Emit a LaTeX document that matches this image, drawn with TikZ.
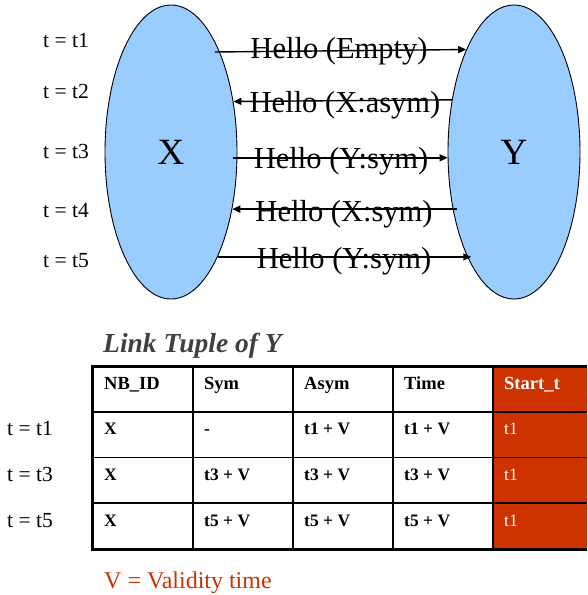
\documentclass[tikz,border=0pt]{standalone}
\usepackage{fontspec}
\setmainfont{Liberation Serif}
\usetikzlibrary{arrows.meta,shapes.geometric}
\definecolor{peerblue}{HTML}{99CCFF}
\definecolor{rust}{HTML}{CC3300}
\definecolor{titlegray}{HTML}{404040}

\begin{document}
\begin{tikzpicture}[x=1pt,y=-1pt,
  peer/.style={ellipse,draw=black,line width=0.9pt,fill=peerblue,
    minimum width=132pt,minimum height=294pt,inner sep=0pt,
    font=\fontsize{37}{40}\selectfont},
  msg/.style={anchor=base,inner sep=0pt,font=\fontsize{30.5}{34}\selectfont},
  msgarrow/.style={line width=1.4pt,-{Triangle[length=8pt,width=7pt]}},
  tlabel/.style={anchor=base west,inner sep=0pt,font=\fontsize{21.5}{25}\selectfont},
  cellhead/.style={anchor=base west,inner sep=0pt,font=\fontsize{18.5}{21}\selectfont\bfseries},
  cell/.style={anchor=base west,inner sep=0pt,font=\fontsize{17.5}{20}\selectfont\bfseries},
  startcell/.style={anchor=base west,inner sep=0pt,text=white,font=\fontsize{17.5}{20}\selectfont},
  grid/.style={line width=1.6pt},
  frame/.style={line width=3pt}]
\useasboundingbox (0,0) rectangle (587,595);

% the two peers
\node[peer] (X) at (171,152) {X};
\node[peer] (Y) at (514,152) {Y};

% time marks of the exchange
\node[tlabel] (tt1) at (43,47)  {t = t1};
\node[tlabel] (tt2) at (43,98)  {t = t2};
\node[tlabel] (tt3) at (43,158) {t = t3};
\node[tlabel] (tt4) at (43,217) {t = t4};
\node[tlabel] (tt5) at (43,267) {t = t5};

% hello messages
\node[msg] (m1) at (339,58)  {Hello (Empty)};
\node[msg] (m2) at (345,112) {Hello (X:asym)};
\node[msg] (m3) at (341,168) {Hello (Y:sym)};
\node[msg] (m4) at (344,221) {Hello (X:sym)};
\node[msg] (m5) at (344,268) {Hello (Y:sym)};

\draw[msgarrow,shorten <=-5pt] (X.64.06) -- (Y.115.94);
\draw[msgarrow] (Y.140.95) -- (X.39.05);
\draw[msgarrow,shorten <=-4pt] (X.-5.46) -- (Y.185.46);
\draw[msgarrow,shorten <=-4pt] (Y.223.72) -- (X.-43.72);
\draw[msgarrow,shorten >=-4pt] (X.-66.54) -- (Y.246.54);

% link tuple table
\node[anchor=base west,inner sep=0pt,text=titlegray,
  font=\fontsize{27.5}{30}\selectfont\bfseries\itshape] (title) at (103,352) {Link Tuple of Y};

\fill[rust] (493,366) rectangle (587,549);
\foreach \cx in {193,293,393,493}
  \draw[grid] (\cx,366) -- (\cx,549);
\foreach \ry in {411.75,457.5,503.25}
  \draw[grid] (92,\ry) -- (587,\ry);
\draw[frame] (587,366) -- (92,366) -- (92,549) -- (587,549);

\node[cellhead] (h1) at (104,389) {NB\_ID};
\node[cellhead] (h2) at (204,389) {Sym};
\node[cellhead] (h3) at (304,389) {Asym};
\node[cellhead] (h4) at (404,389) {Time};
\node[cellhead,text=white] (h5) at (504,389) {Start\_t};

\node[cell] (a1) at (104,434.75) {X};
\node[cell] (a2) at (204,434.75) {-};
\node[cell] (a3) at (304,434.75) {t1 + V};
\node[cell] (a4) at (404,434.75) {t1 + V};
\node[startcell] (a5) at (504,434.75) {t1};

\node[cell] (b1) at (104,480.5) {X};
\node[cell] (b2) at (204,480.5) {t3 + V};
\node[cell] (b3) at (304,480.5) {t3 + V};
\node[cell] (b4) at (404,480.5) {t3 + V};
\node[startcell] (b5) at (504,480.5) {t1};

\node[cell] (c1) at (104,526.25) {X};
\node[cell] (c2) at (204,526.25) {t5 + V};
\node[cell] (c3) at (304,526.25) {t5 + V};
\node[cell] (c4) at (404,526.25) {t5 + V};
\node[startcell] (c5) at (504,526.25) {t1};

\node[tlabel] (r1) at (7,435) {t = t1};
\node[tlabel] (r3) at (7,481) {t = t3};
\node[tlabel] (r5) at (7,527) {t = t5};

\node[anchor=base west,inner sep=0pt,text=rust,font=\fontsize{24}{27}\selectfont]
  (note) at (104,588) {V = Validity time};
\end{tikzpicture}
\end{document}
